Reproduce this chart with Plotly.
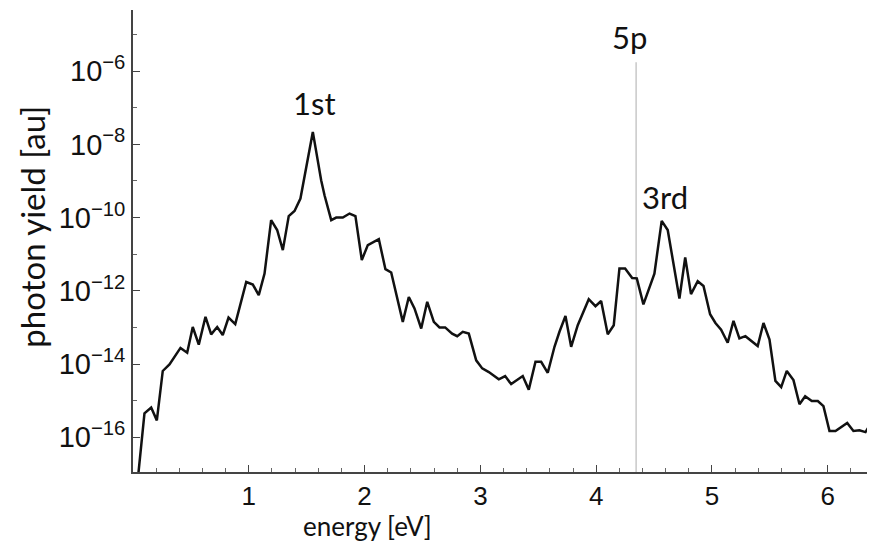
import numpy as np
import plotly.graph_objects as go

# Energies (eV)
energy = [0.04, 0.099, 0.157, 0.206, 0.257, 0.315, 0.41, 0.468, 0.516, 0.568,
          0.626, 0.675, 0.727, 0.775, 0.825, 0.883, 0.978, 1.035, 1.086, 1.136,
          1.193, 1.245, 1.294, 1.345, 1.395, 1.446, 1.553, 1.625, 1.654, 1.712,
          1.755, 1.812, 1.87, 1.921, 1.976, 2.028, 2.123, 2.18, 2.23, 2.33,
          2.382, 2.431, 2.489, 2.541, 2.598, 2.647, 2.696, 2.756, 2.8, 2.848,
          2.9, 2.964, 3.016, 3.073, 3.159, 3.214, 3.266, 3.366, 3.418, 3.476,
          3.525, 3.582, 3.64, 3.683, 3.735, 3.784, 3.841, 3.936, 3.994, 4.043,
          4.1, 4.152, 4.201, 4.25, 4.311, 4.351, 4.408, 4.503, 4.566, 4.618,
          4.719, 4.769, 4.819, 4.877, 4.927, 4.984, 5.03, 5.079, 5.136, 5.186,
          5.237, 5.289, 5.395, 5.445, 5.497, 5.548, 5.598, 5.646, 5.704, 5.756,
          5.805, 5.862, 5.914, 5.963, 6.015, 6.067, 6.168, 6.222, 6.274, 6.326,
          6.375, 6.42]

# log10 of photon yield
log_yield = [-17.2, -15.35, -15.19, -15.54, -14.19, -14.01, -13.56, -13.69, -12.99, -13.47,
             -12.71, -13.19, -12.99, -13.21, -12.73, -12.91, -11.76, -11.83, -12.12, -11.53,
             -10.07, -10.34, -10.89, -9.96, -9.82, -9.48, -7.66, -8.98, -9.39, -10.07,
             -10.0, -10.0, -9.89, -9.96, -11.16, -10.75, -10.59, -11.41, -11.5, -12.85,
             -12.17, -12.48, -13.03, -12.30, -12.85, -13.0, -13.0, -13.17, -13.24, -13.12,
             -13.17, -13.9, -14.12, -14.22, -14.42, -14.33, -14.55, -14.33, -14.70, -13.94,
             -13.94, -14.24, -13.53, -13.12, -12.69, -13.53, -12.94, -12.23, -12.42, -12.28,
             -13.19, -12.94, -11.39, -11.39, -11.65, -11.66, -12.37, -11.53, -10.09, -10.34,
             -12.21, -11.09, -12.09, -11.74, -11.87, -12.64, -12.88, -13.06, -13.42, -12.82,
             -13.30, -13.24, -13.51, -12.88, -13.33, -14.46, -14.63, -14.19, -14.44, -15.10,
             -14.88, -15.01, -15.01, -15.15, -15.83, -15.83, -15.61, -15.83, -15.81, -15.86,
             -15.61, -15.86]

photon_yield = np.power(10.0, np.array(log_yield))

x_ticks = [1, 2, 3, 4, 5, 6]
x_minor = [0.2 * k for k in range(1, 33)]
y_major = [1e-16, 1e-14, 1e-12, 1e-10, 1e-8, 1e-6]
y_major_text = ["10<sup>\u221216</sup>", "10<sup>\u221214</sup>", "10<sup>\u221212</sup>",
                "10<sup>\u221210</sup>", "10<sup>\u22128</sup>", "10<sup>\u22126</sup>"]
y_minor = [1e-17, 1e-15, 1e-13, 1e-11, 1e-9, 1e-7, 1e-5]

line_5p_energy = 4.345
peak_labels = ["1st", "3rd", "5p"]
peak_label_x = [1.567, 4.598, 4.288]
peak_label_logy = [-6.87, -9.44, -5.07]

fig = go.Figure()
fig.add_trace(go.Scatter(x=energy, y=photon_yield, mode="lines",
                         line=dict(color="#111111", width=2.5),
                         showlegend=False, hoverinfo="skip"))

fig.add_shape(type="line", xref="x", yref="paper",
              x0=line_5p_energy, x1=line_5p_energy, y0=0, y1=0.887,
              line=dict(color="#c8c8c8", width=1.5), layer="below")

for t, xv, ly in zip(peak_labels, peak_label_x, peak_label_logy):
    fig.add_annotation(text=t, x=xv, y=ly, xref="x", yref="y", showarrow=False,
                       xanchor="center", yanchor="middle",
                       font=dict(family="Lato", size=31, color="#111111"))

fig.add_annotation(text="energy [eV]", xref="paper", yref="paper", x=0.320, y=-0.117,
                   xanchor="center", yanchor="middle", showarrow=False,
                   font=dict(family="Lato", size=26, color="#111111"))
fig.add_annotation(text="photon yield [au]", xref="paper", yref="paper", x=-0.137, y=0.532,
                   xanchor="center", yanchor="middle", textangle=-90, showarrow=False,
                   font=dict(family="Lato", size=33, color="#111111"))

fig.update_xaxes(range=[0, 6.339], showline=True, linecolor="#444444", linewidth=1.6,
                 showgrid=False, zeroline=False, ticks="inside", ticklen=7, tickwidth=1.2,
                 tickcolor="#444444", tickvals=x_ticks, ticklabelstandoff=0, automargin=False,
                 tickfont=dict(family="Liberation Sans", size=26, color="#111111"),
                 minor=dict(tickvals=x_minor, ticks="inside", ticklen=4,
                            tickcolor="#666666", tickwidth=1))
fig.update_yaxes(type="log", range=[-16.95, -4.33], showline=True, linecolor="#444444",
                 linewidth=1.6, showgrid=False, zeroline=False, ticks="inside", ticklen=7,
                 tickwidth=1.2, tickcolor="#444444", tickvals=y_major, ticktext=y_major_text,
                 ticklabelstandoff=0, automargin=False,
                 tickfont=dict(family="Liberation Sans", size=29, color="#111111"),
                 minor=dict(tickvals=y_minor, ticks="inside", ticklen=4,
                            tickcolor="#666666", tickwidth=1))

fig.update_layout(width=859, height=536, margin=dict(l=125, r=0, t=2, b=72),
                  plot_bgcolor="white", paper_bgcolor="white")

fig.write_html("out.html")
